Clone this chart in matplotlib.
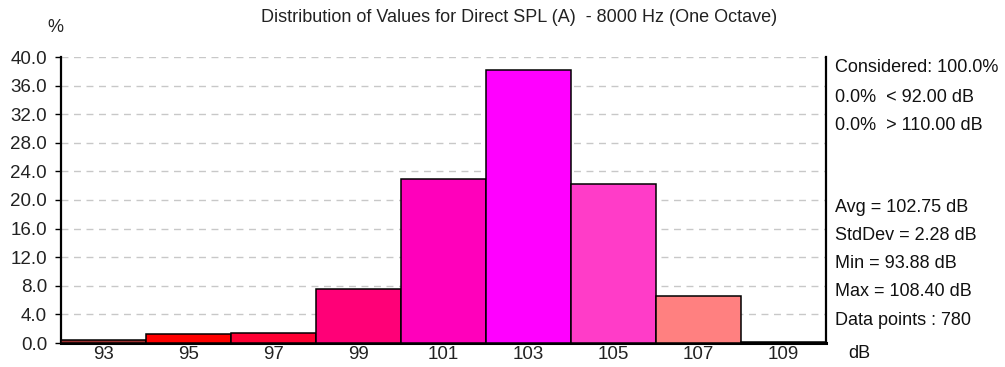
import matplotlib
matplotlib.use("Agg")
import matplotlib.pyplot as plt

bins = [93, 95, 97, 99, 101, 103, 105, 107, 109]
percent = [0.4, 1.3, 1.45, 7.6, 22.9, 38.2, 22.3, 6.6, 0.15]
colors = ["#9c3030", "#ff0000", "#ff0033", "#ff0077", "#ff00bb", "#ff00ff",
          "#ff3cc8", "#ff8080", "#ffffff"]
yticks = [0, 4, 8, 12, 16, 20, 24, 28, 32, 36, 40]
stats_top = ["Considered: 100.0%", "0.0%  < 92.00 dB", "0.0%  > 110.00 dB"]
stats_bottom = ["Avg = 102.75 dB", "StdDev = 2.28 dB", "Min = 93.88 dB",
                "Max = 108.40 dB", "Data points : 780"]
title = "Distribution of Values for Direct SPL (A)  - 8000 Hz (One Octave)"

W, H = 1005, 367
fig = plt.figure(figsize=(W / 100, H / 100), dpi=100)
plt.rcParams['font.family'] = ['Liberation Sans', 'DejaVu Sans']
fs = 13

ax = fig.add_axes([61 / W, (H - 343) / H, (826 - 61) / W, (343 - 57) / H])
ax.bar(bins, percent, width=2, color=colors, edgecolor="black", linewidth=1.1,
       zorder=3)
ax.set_xlim(92, 110)
ax.set_ylim(0, 40)
ax.set_yticks(yticks)
ax.set_yticklabels([f"{v:.1f}" for v in yticks], fontsize=13.5, color="#222222")
ax.set_xticks(bins)
ax.set_xticklabels([str(b) for b in bins], fontsize=13.5, color="#222222")
ax.tick_params(axis="x", length=0, pad=2)
ax.tick_params(axis="y", length=4, width=1, pad=6)
for y in yticks[1:]:
    ax.axhline(y, color="#c8c8c8", linewidth=1.0, linestyle=(0, (5, 4)), zorder=1)
ax.spines["top"].set_visible(False)
ax.spines["left"].set_linewidth(1.6)
ax.spines["bottom"].set_linewidth(2.2)
ax.spines["right"].set_linewidth(1.6)

fig.text(519 / W, 1 - 18 / H, title, ha="center", va="center", fontsize=fs,
         color="#222222")
fig.text(55 / W, 1 - 28 / H, "%", ha="center", va="center", fontsize=fs,
         color="#222222")
for i, s in enumerate(stats_top):
    fig.text(835 / W, 1 - (68 + 29 * i) / H, s, ha="left", va="center",
             fontsize=fs, color="#111111")
for i, s in enumerate(stats_bottom):
    fig.text(835 / W, 1 - (207 + 28.3 * i) / H, s, ha="left", va="center",
             fontsize=fs, color="#111111")
fig.text(848 / W, 1 - 354 / H, "dB", ha="left", va="center", fontsize=fs,
         color="#111111")

fig.savefig("out.png", dpi=100)
